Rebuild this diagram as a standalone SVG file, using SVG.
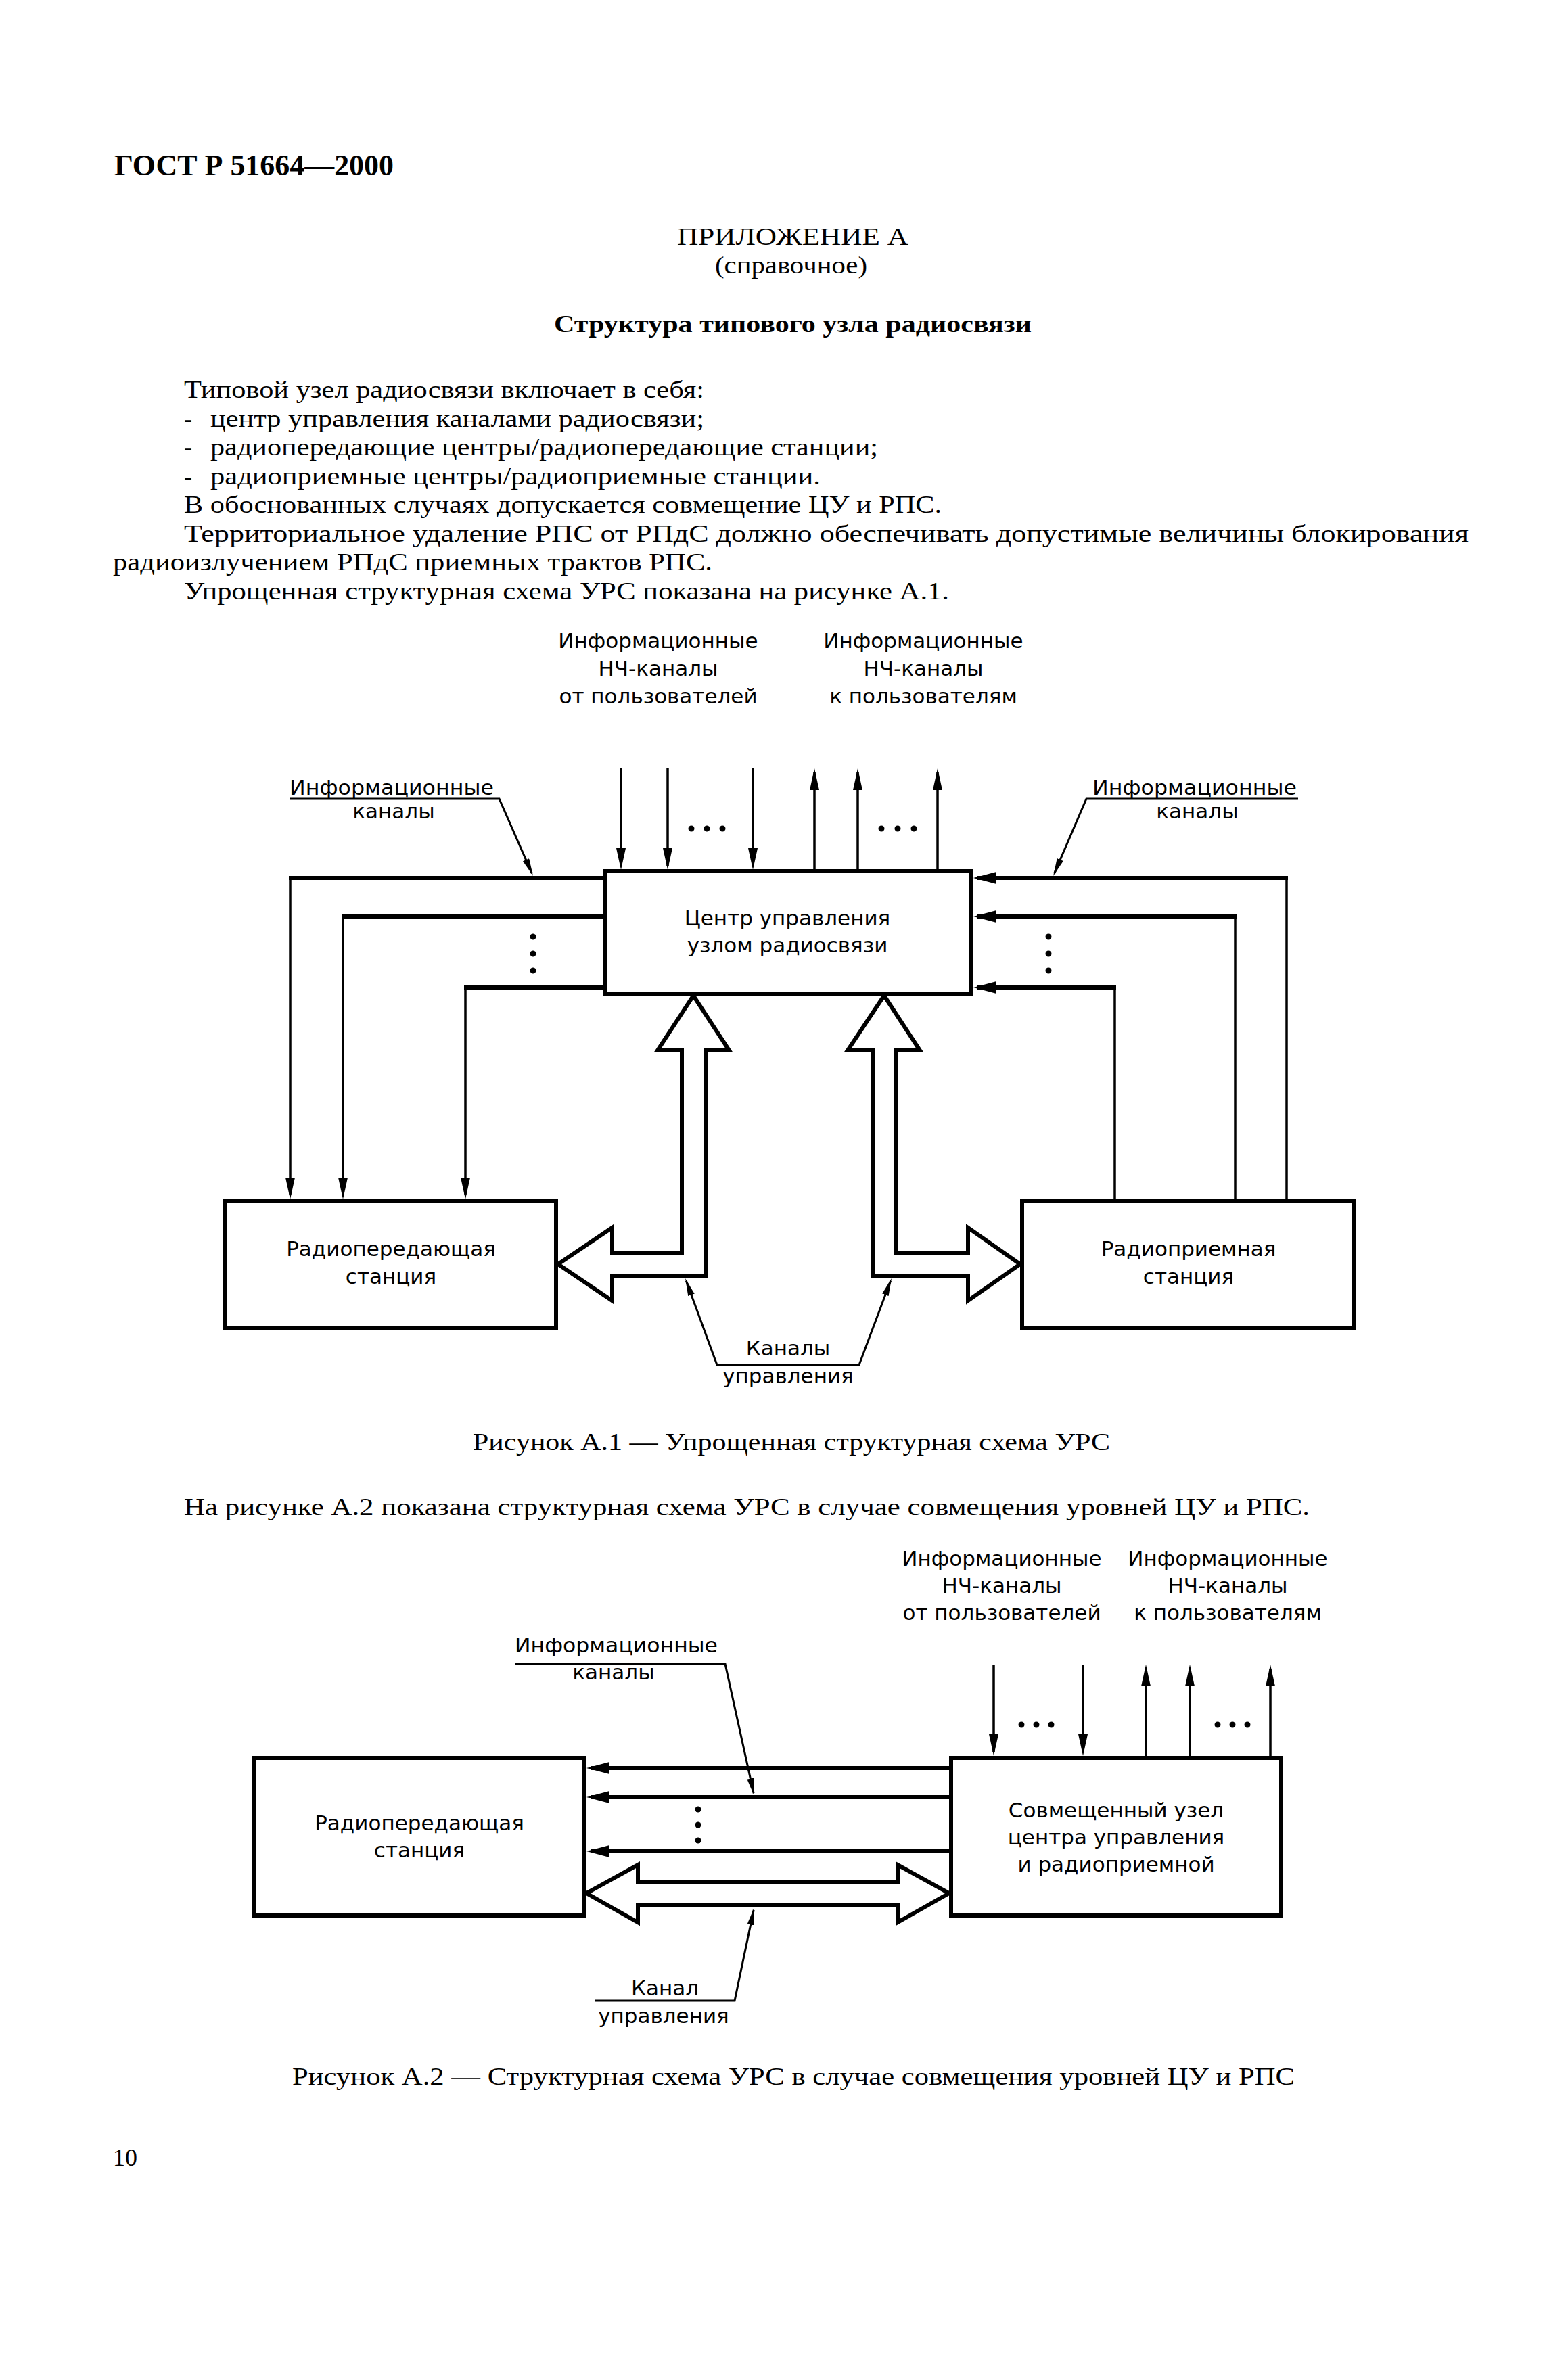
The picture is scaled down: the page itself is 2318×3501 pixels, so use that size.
<svg xmlns="http://www.w3.org/2000/svg" width="2318" height="3501" viewBox="0 0 2318 3501">
<style>
.serif{font-family:"Liberation Serif","DejaVu Serif",serif;font-size:36px;fill:#000}
.hdr{font-size:44px;font-weight:bold}
.ttl{font-size:36px;font-weight:bold}
.sans{font-family:"DejaVu Sans","Liberation Sans",sans-serif;font-size:31px;fill:#000}
.mid{text-anchor:middle}
.box{fill:#fff;stroke:#000;stroke-width:6}
.thin{fill:none;stroke:#000;stroke-width:3.5}
.thick{fill:none;stroke:#000;stroke-width:6}
.lead{fill:none;stroke:#000;stroke-width:3}
.hollow{fill:#fff;stroke:#000;stroke-width:6;stroke-linejoin:miter}
.dot{fill:#000}
</style>
<defs>
<marker id="ah" viewBox="0 0 32 14" refX="26" refY="7" markerWidth="32" markerHeight="14" markerUnits="userSpaceOnUse" orient="auto"><path d="M0,0 L32,7 L0,14 Z" fill="#000"/></marker>
<marker id="ahw" viewBox="0 0 34 18" refX="28" refY="9" markerWidth="34" markerHeight="18" markerUnits="userSpaceOnUse" orient="auto"><path d="M0,0 L34,9 L0,18 Z" fill="#000"/></marker>
<marker id="ahl" viewBox="0 0 26 10" refX="22" refY="5" markerWidth="26" markerHeight="10" markerUnits="userSpaceOnUse" orient="auto"><path d="M0,0 L26,5 L0,10 Z" fill="#000"/></marker>
</defs>
<rect x="0" y="0" width="2318" height="3501" fill="#fff"/>

<g id="page-text" class="serif">
<text class="hdr" x="169" y="259" textLength="413" lengthAdjust="spacingAndGlyphs">ГОСТ Р 51664—2000</text>
<text x="1001" y="362" textLength="342" lengthAdjust="spacingAndGlyphs">ПРИЛОЖЕНИЕ А</text>
<text x="1057" y="404" textLength="225" lengthAdjust="spacingAndGlyphs">(справочное)</text>
<text class="ttl" x="819" y="491" textLength="706" lengthAdjust="spacingAndGlyphs">Структура типового узла радиосвязи</text>
<text x="272" y="588" textLength="769" lengthAdjust="spacingAndGlyphs">Типовой узел радиосвязи включает в себя:</text>
<text x="272" y="631">-</text>
<text x="311" y="631" textLength="730" lengthAdjust="spacingAndGlyphs">центр управления каналами радиосвязи;</text>
<text x="272" y="673">-</text>
<text x="311" y="673" textLength="987" lengthAdjust="spacingAndGlyphs">радиопередающие центры/радиопередающие станции;</text>
<text x="272" y="716">-</text>
<text x="311" y="716" textLength="902" lengthAdjust="spacingAndGlyphs">радиоприемные центры/радиоприемные станции.</text>
<text x="272" y="758" textLength="1120" lengthAdjust="spacingAndGlyphs">В обоснованных случаях допускается совмещение ЦУ и РПС.</text>
<text x="272" y="801" textLength="1899" lengthAdjust="spacingAndGlyphs">Территориальное удаление РПС от РПдС должно обеспечивать допустимые величины блокирования</text>
<text x="167" y="843" textLength="886" lengthAdjust="spacingAndGlyphs">радиоизлучением РПдС приемных трактов РПС.</text>
<text x="272" y="886" textLength="1131" lengthAdjust="spacingAndGlyphs">Упрощенная структурная схема УРС показана на рисунке А.1.</text>
<text x="699" y="2144" textLength="942" lengthAdjust="spacingAndGlyphs">Рисунок А.1 — Упрощенная структурная схема УРС</text>
<text x="272" y="2240" textLength="1664" lengthAdjust="spacingAndGlyphs">На рисунке А.2 показана структурная схема УРС в случае совмещения уровней ЦУ и РПС.</text>
<text x="432" y="3082" textLength="1482" lengthAdjust="spacingAndGlyphs">Рисунок А.2 — Структурная схема УРС в случае совмещения уровней ЦУ и РПС</text>
<text x="167" y="3202">10</text>
</g>

<!-- Figure A.1 -->
<g id="a1-labels" class="sans">
<text class="mid" x="973" y="958">Информационные</text>
<text class="mid" x="973" y="999">НЧ-каналы</text>
<text class="mid" x="973" y="1040">от пользователей</text>
<text class="mid" x="1365" y="958">Информационные</text>
<text class="mid" x="1365" y="999">НЧ-каналы</text>
<text class="mid" x="1365" y="1040">к пользователям</text>
<text x="428" y="1175" textLength="302" lengthAdjust="spacingAndGlyphs">Информационные</text>
<text class="mid" x="582" y="1210">каналы</text>
<text x="1615" y="1175" textLength="302" lengthAdjust="spacingAndGlyphs">Информационные</text>
<text class="mid" x="1770" y="1210">каналы</text>
<text class="mid" x="1165" y="2004">Каналы</text>
<text class="mid" x="1165" y="2045">управления</text>
</g>

<g id="a1-connectors">
<path class="thin" d="M918,1136 V1280" marker-end="url(#ah)"/>
<path class="thin" d="M987,1136 V1280" marker-end="url(#ah)"/>
<path class="thin" d="M1113,1136 V1280" marker-end="url(#ah)"/>
<path class="thin" d="M1204,1286 V1142" marker-end="url(#ah)"/>
<path class="thin" d="M1268,1286 V1142" marker-end="url(#ah)"/>
<path class="thin" d="M1386,1286 V1142" marker-end="url(#ah)"/>
<circle class="dot" cx="1022" cy="1225" r="4.5"/><circle class="dot" cx="1045" cy="1225" r="4.5"/><circle class="dot" cx="1068" cy="1225" r="4.5"/>
<circle class="dot" cx="1303" cy="1225" r="4.5"/><circle class="dot" cx="1327" cy="1225" r="4.5"/><circle class="dot" cx="1351" cy="1225" r="4.5"/>

<path class="thick" d="M895,1298 H427"/>
<path class="thick" d="M895,1355 H505"/>
<path class="thick" d="M895,1460 H686"/>
<path class="thin" d="M429,1296 V1767" marker-end="url(#ah)"/>
<path class="thin" d="M507,1353 V1767" marker-end="url(#ah)"/>
<path class="thin" d="M688,1458 V1767" marker-end="url(#ah)"/>
<circle class="dot" cx="788" cy="1385" r="4.5"/><circle class="dot" cx="788" cy="1410" r="4.5"/><circle class="dot" cx="788" cy="1435" r="4.5"/>

<path class="thick" d="M1904,1298 H1445" marker-end="url(#ahw)"/>
<path class="thick" d="M1828,1355 H1445" marker-end="url(#ahw)"/>
<path class="thick" d="M1650,1460 H1445" marker-end="url(#ahw)"/>
<path class="thin" d="M1902,1775 V1296"/>
<path class="thin" d="M1826,1775 V1353"/>
<path class="thin" d="M1648,1775 V1458"/>
<circle class="dot" cx="1550" cy="1385" r="4.5"/><circle class="dot" cx="1550" cy="1410" r="4.5"/><circle class="dot" cx="1550" cy="1435" r="4.5"/>

<polygon class="hollow" points="1025,1472 1078,1553 1043,1553 1043,1887 905,1887 905,1923 825,1869 905,1815 905,1852 1008,1852 1008,1553 972,1553"/>
<polygon class="hollow" points="1307,1472 1360,1553 1325,1553 1325,1852 1431,1852 1431,1815 1508,1869 1431,1923 1431,1887 1290,1887 1290,1553 1253,1553"/>

<path class="lead" d="M428,1181 H738 L786.4,1291.3" marker-end="url(#ahl)"/>
<path class="lead" d="M1919,1181 H1606 L1558.6,1291.3" marker-end="url(#ahl)"/>
<path class="lead" d="M1165,2018 H1060 L1014.4,1893.8" marker-end="url(#ahl)"/>
<path class="lead" d="M1165,2018 H1270 L1316.6,1893.7" marker-end="url(#ahl)"/>
</g>

<g id="a1-node-cu">
<rect class="box" x="895" y="1288" width="541" height="181"/>
<text class="sans mid" x="1164" y="1368">Центр управления</text>
<text class="sans mid" x="1164" y="1408">узлом радиосвязи</text>
</g>
<g id="a1-node-rpds">
<rect class="box" x="332" y="1775" width="490" height="188"/>
<text class="sans mid" x="578" y="1857">Радиопередающая</text>
<text class="sans mid" x="578" y="1898">станция</text>
</g>
<g id="a1-node-rps">
<rect class="box" x="1511" y="1775" width="490" height="188"/>
<text class="sans mid" x="1757" y="1857">Радиоприемная</text>
<text class="sans mid" x="1757" y="1898">станция</text>
</g>

<!-- Figure A.2 -->
<g id="a2-labels" class="sans">
<text class="mid" x="1481" y="2315">Информационные</text>
<text class="mid" x="1481" y="2355">НЧ-каналы</text>
<text class="mid" x="1481" y="2395">от пользователей</text>
<text class="mid" x="1815" y="2315">Информационные</text>
<text class="mid" x="1815" y="2355">НЧ-каналы</text>
<text class="mid" x="1815" y="2395">к пользователям</text>
<text x="761" y="2443" textLength="300" lengthAdjust="spacingAndGlyphs">Информационные</text>
<text class="mid" x="907" y="2483">каналы</text>
<text class="mid" x="983" y="2950">Канал</text>
<text class="mid" x="981" y="2991">управления</text>
</g>

<g id="a2-connectors">
<path class="thin" d="M1469,2461 V2590" marker-end="url(#ah)"/>
<path class="thin" d="M1601,2461 V2590" marker-end="url(#ah)"/>
<path class="thin" d="M1694,2596 V2467" marker-end="url(#ah)"/>
<path class="thin" d="M1759,2596 V2467" marker-end="url(#ah)"/>
<path class="thin" d="M1878,2596 V2467" marker-end="url(#ah)"/>
<circle class="dot" cx="1510" cy="2550" r="4.5"/><circle class="dot" cx="1532" cy="2550" r="4.5"/><circle class="dot" cx="1554" cy="2550" r="4.5"/>
<circle class="dot" cx="1800" cy="2550" r="4.5"/><circle class="dot" cx="1822" cy="2550" r="4.5"/><circle class="dot" cx="1844" cy="2550" r="4.5"/>

<path class="thick" d="M1406,2614 H873" marker-end="url(#ahw)"/>
<path class="thick" d="M1406,2657 H873" marker-end="url(#ahw)"/>
<path class="thick" d="M1406,2737 H873" marker-end="url(#ahw)"/>
<circle class="dot" cx="1032" cy="2675" r="4.5"/><circle class="dot" cx="1032" cy="2698" r="4.5"/><circle class="dot" cx="1032" cy="2721" r="4.5"/>

<polygon class="hollow" points="867,2799 943,2757 943,2782 1327,2782 1327,2757 1403,2799 1327,2842 1327,2817 943,2817 943,2842"/>

<path class="lead" d="M761,2460 H1072 L1114.1,2651.1" marker-end="url(#ahl)"/>
<path class="lead" d="M880,2958 H1086 L1114.2,2823.9" marker-end="url(#ahl)"/>
</g>

<g id="a2-node-rpds">
<rect class="box" x="376" y="2599" width="488" height="233"/>
<text class="sans mid" x="620" y="2706">Радиопередающая</text>
<text class="sans mid" x="620" y="2746">станция</text>
</g>
<g id="a2-node-combined">
<rect class="box" x="1406" y="2599" width="488" height="233"/>
<text class="sans mid" x="1650" y="2687">Совмещенный узел</text>
<text class="sans mid" x="1650" y="2727">центра управления</text>
<text class="sans mid" x="1650" y="2767">и радиоприемной</text>
</g>
</svg>
